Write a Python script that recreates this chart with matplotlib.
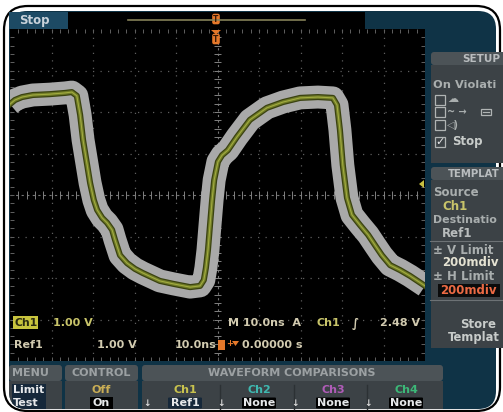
import matplotlib.pyplot as plt
from matplotlib.patches import FancyBboxPatch, Rectangle, Polygon

# Ch1 acquisition, read at 10 ns/div and 1 V/div
t_ns = [-50.0, -48.8, -47.1, -44.5, -40.4, -36.7, -35.1, -33.9, -33.1, -32.4,
        -31.4, -30.7, -29.8, -29.0, -27.8, -26.6, -25.4, -24.7, -23.5, -21.8,
        -19.9, -18.0, -13.9, -10.7, -6.6, -4.2, -3.3, -2.8, -2.3, -1.8,
        -1.3, -0.8, 0.1, 1.1, 2.5, 4.7, 7.8, 11.9, 15.8, 19.9,
        24.2, 27.8, 28.8, 29.5, 30.2, 31.2, 32.4, 34.3, 36.3, 37.9,
        39.6, 41.6, 44.0, 46.4, 50.0]
ch1_v = [2.19, 2.29, 2.36, 2.41, 2.43, 2.46, 2.48, 2.39, 1.93, 1.33,
         0.72, 0.29, -0.12, -0.36, -0.55, -0.67, -0.84, -1.08, -1.45, -1.64,
         -1.78, -1.88, -2.07, -2.14, -2.22, -2.19, -2.05, -1.76, -1.33, -0.72,
         -0.12, 0.36, 0.80, 0.96, 1.08, 1.40, 1.81, 2.10, 2.24, 2.34,
         2.36, 2.34, 2.17, 1.57, 0.72, -0.07, -0.48, -0.72, -0.96, -1.20,
         -1.45, -1.69, -1.81, -1.95, -2.19]

time_div = 10.0   # ns per division
volt_div = 1.0    # V per division
n_hdiv, n_vdiv = 10, 8

# readouts
ch_scale = "1.00 V"
horiz_readout = "M 10.0ns  A"
trig_source = "Ch1"
trig_level = "2.48 V"
ref_label, ref_scale, ref_time = "Ref1", "1.00 V", "10.0ns"
trig_pos = "0.00000 s"
v_limit, h_limit = "200mdiv", "200mdiv"
compare_ch = ["Ch1", "Ch2", "Ch3", "Ch4"]
compare_ref = ["Ref1", "None", "None", "None"]
compare_col = ["#c8c24e", "#3fb8b0", "#b05cb8", "#3cb878"]

TEAL = "#0f3346"
PANEL = "#3c4246"
HEAD = "#4c5357"
TXT = "#d2cbb0"
ORANGE = "#e5782a"

W, H = 503, 412
fig = plt.figure(figsize=(W / 100, H / 100), dpi=100)
fig.patch.set_facecolor("white")

bg = fig.add_axes([0, 0, 1, 1], zorder=0)
bg.set_xlim(0, W)
bg.set_ylim(H, 0)
bg.axis("off")

# bezel and screen
bg.add_patch(FancyBboxPatch((4, 6), 496, 405, boxstyle="round,pad=0,rounding_size=24",
                            fc="white", ec="black", lw=1.6))
screen = FancyBboxPatch((9, 11), 487, 398, boxstyle="round,pad=0,rounding_size=18",
                        fc=TEAL, ec="none")
bg.add_patch(screen)

# waveform graticule
gx0, gx1, gy0, gy1 = 10, 425, 29, 361
ax = fig.add_axes([gx0 / W, 1 - gy1 / H, (gx1 - gx0) / W, (gy1 - gy0) / H], zorder=1)
ax.set_facecolor("black")
xmax = time_div * n_hdiv / 2
ymax = volt_div * n_vdiv / 2
ax.set_xlim(-xmax, xmax)
ax.set_ylim(-ymax, ymax)
for s in ax.spines.values():
    s.set_visible(False)
ax.set_xticks([])
ax.set_yticks([])

for i in range(1, n_hdiv):
    xv = -xmax + i * time_div
    if abs(xv) > 1e-9:
        ax.axvline(xv, color="#5e5e5e", lw=0.9, ls=(0, (1, 5)), zorder=1)
for j in range(1, n_vdiv):
    yv = -ymax + j * volt_div
    if abs(yv) > 1e-9:
        ax.axhline(yv, color="#5e5e5e", lw=0.9, ls=(0, (1, 5)), zorder=1)
ax.axvline(0, color="#767676", lw=0.8, ls=(0, (2, 3)), zorder=1)
ax.axhline(0, color="#767676", lw=0.8, ls=(0, (2, 3)), zorder=1)

# minor ticks along centre lines and edges
step_x = time_div / 5
step_y = volt_div / 5
tx = [-xmax + k * step_x for k in range(1, n_hdiv * 5)]
ty = [-ymax + k * step_y for k in range(1, n_vdiv * 5)]
tlx = 0.09 * volt_div
tly = 0.09 * time_div
ax.vlines(tx, -tlx, tlx, color="#808080", lw=0.7, zorder=1)
ax.hlines(ty, -tly, tly, color="#808080", lw=0.7, zorder=1)
ax.vlines(tx, ymax - tlx, ymax, color="#606060", lw=0.7, zorder=1)
ax.vlines(tx, -ymax, -ymax + tlx, color="#606060", lw=0.7, zorder=1)
ax.hlines(ty, -xmax, -xmax + tly, color="#606060", lw=0.7, zorder=1)
ax.hlines(ty, xmax - tly, xmax, color="#606060", lw=0.7, zorder=1)

# template mask, then the live trace
ax.plot(t_ns, ch1_v, color="#a9a9a9", lw=16.5, solid_joinstyle="round",
        solid_capstyle="butt", zorder=2)
ax.plot(t_ns, ch1_v, color="#3a4210", lw=4.4, solid_joinstyle="round", zorder=3)
ax.plot(t_ns, ch1_v, color="#6f7a26", lw=2.6, solid_joinstyle="round", zorder=4)
ax.plot(t_ns, ch1_v, color="#a2ac40", lw=0.8, solid_joinstyle="round", zorder=5)

# overlay for readouts and menus
ui = fig.add_axes([0, 0, 1, 1], zorder=2)
ui.set_xlim(0, W)
ui.set_ylim(H, 0)
ui.patch.set_alpha(0)
ui.axis("off")

def txt(x, y, s, color=TXT, size=8, ha="left", clip=False, **kw):
    t = ui.text(x, y, s, color=color, fontsize=size, fontweight="bold", ha=ha,
                va="center", clip_on=clip, **kw)
    if clip:
        t.set_clip_path(screen)
    return t

# top status bar
ui.add_patch(Rectangle((9, 12), 59, 17, fc="#1d4a64", ec="none"))
ui.add_patch(Rectangle((68, 12), 297, 17, fc="black", ec="none"))
ui.plot([128, 305], [19.5, 19.5], color="#858158", lw=1.2)
txt(19, 20, "Stop", color="#c9d2da", size=8.5)

def trig_mark(x, y):
    ui.add_patch(FancyBboxPatch((x - 3.5, y - 5), 7, 10, boxstyle="round,pad=0.3,rounding_size=2",
                                fc=ORANGE, ec="none"))
    ui.text(x, y + 0.5, "T", color="#3a1a05", fontsize=5.5, fontweight="bold",
            ha="center", va="center")

trig_mark(216, 19)
ui.add_patch(Polygon([[211, 30], [221, 30], [216, 34.5]], closed=True, fc=ORANGE, ec="none"))
trig_mark(216, 39)

# trigger level arrow on the right edge
ui.add_patch(Polygon([[419, 184], [424, 180], [424, 188]], closed=True, fc="#c8c040", ec="none"))

# graticule readouts
ui.add_patch(Rectangle((13, 316), 25, 13, fc="#c8c43e", ec="none"))
txt(14.5, 323, "Ch1", color="#2a2a10", size=7.8)
txt(53, 323, ch_scale, color="#c8c46a", size=8)
txt(228, 323, horiz_readout, size=8)
txt(317, 323, trig_source, color="#c8c46a", size=8)
txt(352, 323, "∫", size=8.5)
txt(380, 323, trig_level, size=8)

txt(14, 345, ref_label, size=8)
txt(97, 345, ref_scale, size=8)
txt(175, 345, ref_time, size=8)
ui.add_patch(Rectangle((218, 340), 7, 10, fc=ORANGE, ec="none"))
txt(226, 344, "+", color=ORANGE, size=6)
ui.add_patch(Polygon([[232, 341], [239, 341], [235.5, 346]], closed=True, fc=ORANGE, ec="none"))
txt(242, 345, trig_pos, size=8)

# right hand side menu
ui.add_patch(FancyBboxPatch((431, 52), 80, 13, boxstyle="round,pad=0,rounding_size=3",
                            fc=HEAD, ec="none"))
ui.add_patch(Rectangle((431, 65), 80, 98, fc=PANEL, ec="none"))
txt(500, 58.5, "SETUP", color="#b9bdbf", size=7.5, ha="right")
txt(433, 85, "On Violati", color="#a9aeae", size=8.2)
for yb in [100, 112, 125, 142]:
    ui.add_patch(Rectangle((435, yb - 5), 10, 10, fc="none", ec="#b0b4b4", lw=0.9))
txt(447, 99, "☁", color="#a9aeae", size=8)
txt(447, 112, "~ →", color="#a9aeae", size=7)
ui.add_patch(Rectangle((481, 109), 10, 6, fc="none", ec="#b0b4b4", lw=0.9))
ui.plot([483, 489], [112, 112], color="#b0b4b4", lw=0.9)
txt(447, 125, "◁)", color="#a9aeae", size=7)
txt(435.5, 142.5, "✓", color="#e8e8e8", size=8)
txt(452, 142, "Stop", color="#c8ccca", size=8.5)

ui.add_patch(FancyBboxPatch((431, 167), 80, 13, boxstyle="round,pad=0,rounding_size=3",
                            fc=HEAD, ec="none"))
ui.add_patch(Rectangle((431, 180), 80, 168, fc=PANEL, ec="none"))
txt(448, 174, "TEMPLAT", color="#b9bdbf", size=7.3)
txt(433, 192, "Source", color="#a9aeae", size=8.5)
txt(442, 206, "Ch1", color="#c8c46a", size=8.5)
txt(433, 220, "Destinatio", color="#a9aeae", size=7.9)
txt(442, 233, "Ref1", color="#b9bdbd", size=8.5)
ui.plot([430, 503], [241, 241], color="#6d7275", lw=0.8)
txt(433, 250, "± V Limit", color="#a9aeae", size=8.5)
txt(442, 263, v_limit, color="#e4e2d2", size=8.5)
txt(433, 277, "± H Limit", color="#a9aeae", size=8.5)
ui.add_patch(Rectangle((438, 284), 62, 13, fc="#0b0b0b", ec="none"))
txt(440, 290.5, h_limit, color="#ec6a44", size=8.5)
ui.plot([430, 503], [300, 300], color="#6d7275", lw=0.8)
txt(460, 325, "Store", color="#c8ccca", size=8.5)
txt(448, 338, "Templat", color="#c8ccca", size=8.3)

# bottom menu bar, clipped to the rounded screen
def clipped(p):
    ui.add_patch(p)
    p.set_clip_path(screen)
    return p

def menu_box(x0, x1, title, tx):
    clipped(FancyBboxPatch((x0, 365), x1 - x0, 16, boxstyle="round,pad=0,rounding_size=3",
                           fc=HEAD, ec="none"))
    clipped(Rectangle((x0, 381), x1 - x0, 31, fc=PANEL, ec="none"))
    txt(tx, 373.5, title, color="#9ca1a3", size=8, ha="center", clip=True)

menu_box(9, 62, "MENU", 30)
menu_box(65, 138, "CONTROL", 101)
menu_box(142, 443, "WAVEFORM COMPARISONS", 292)

clipped(Rectangle((12, 384), 34, 28, fc="#16283a", ec="none"))
txt(13, 390, "Limit", color="#e6e8ea", size=8, clip=True)
txt(13, 403, "Test", color="#e6e8ea", size=8, clip=True)
txt(101, 390, "Off", color="#c9ad55", size=8, ha="center")
ui.add_patch(Rectangle((90, 397), 23, 12, fc="black", ec="none"))
txt(101, 403, "On", color="#e6e8ea", size=8, ha="center")

col_cx = [185, 259, 333, 406]
for k in range(4):
    cx = col_cx[k]
    if k > 0:
        ui.plot([cx - 39, cx - 39], [385, 409], color="#2c3134", lw=1)
    txt(cx, 390, compare_ch[k], color=compare_col[k], size=8, ha="center")
    txt(cx - 38, 404, "↓", color="#dcdcdc", size=6.5, ha="center")
    bx = FancyBboxPatch((cx - 17, 397.5), 34, 11, boxstyle="round,pad=0,rounding_size=1",
                        fc="#16283a" if k == 0 else "black", ec="none")
    ui.add_patch(bx)
    txt(cx, 403, compare_ref[k], color="#e6e8ea", size=8, ha="center")

fig.savefig("out.png", dpi=100, facecolor=fig.get_facecolor())
